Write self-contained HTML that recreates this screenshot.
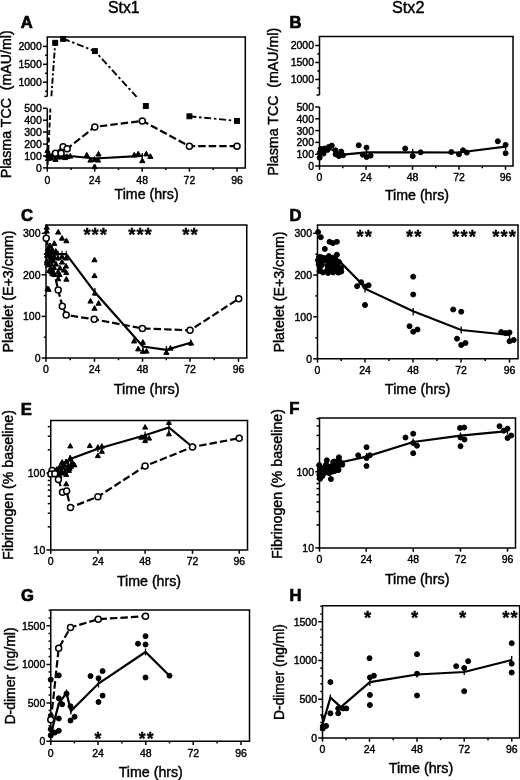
<!DOCTYPE html>
<html><head><meta charset="utf-8"><title>Figure</title>
<style>
html,body{margin:0;padding:0;background:#fff;}
body{width:520px;height:780px;overflow:hidden;}
svg{display:block;font-family:'Liberation Sans', sans-serif;filter:blur(0.45px);}
</style></head>
<body>
<svg width="520" height="780" viewBox="0 0 520 780" stroke="#000" fill="#000" stroke-linecap="butt">
<rect x="0" y="0" width="520" height="780" fill="#fff" stroke="none"/>
<g>
<line x1="46.55" y1="37.00" x2="246.05" y2="37.00" stroke-width="1.5" />
<line x1="245.30" y1="37.00" x2="245.30" y2="167.90" stroke-width="1.5" />
<line x1="46.55" y1="167.90" x2="246.05" y2="167.90" stroke-width="1.5" />
<line x1="47.30" y1="37.00" x2="47.30" y2="96.40" stroke-width="1.5" />
<line x1="47.30" y1="108.30" x2="47.30" y2="167.90" stroke-width="1.5" />
<line x1="44.30" y1="96.40" x2="47.30" y2="96.40" stroke-width="1.5" />
<line x1="47.30" y1="167.90" x2="47.30" y2="171.70" stroke-width="1.5" />
<text x="47.30" y="183.50" font-size="11.3" text-anchor="middle" textLength="5.84" lengthAdjust="spacingAndGlyphs" stroke="#000" stroke-width="0.42" >0</text>
<line x1="94.70" y1="167.90" x2="94.70" y2="171.70" stroke-width="1.5" />
<text x="94.70" y="183.50" font-size="11.3" text-anchor="middle" textLength="11.69" lengthAdjust="spacingAndGlyphs" stroke="#000" stroke-width="0.42" >24</text>
<line x1="142.20" y1="167.90" x2="142.20" y2="171.70" stroke-width="1.5" />
<text x="142.20" y="183.50" font-size="11.3" text-anchor="middle" textLength="11.69" lengthAdjust="spacingAndGlyphs" stroke="#000" stroke-width="0.42" >48</text>
<line x1="189.40" y1="167.90" x2="189.40" y2="171.70" stroke-width="1.5" />
<text x="189.40" y="183.50" font-size="11.3" text-anchor="middle" textLength="11.69" lengthAdjust="spacingAndGlyphs" stroke="#000" stroke-width="0.42" >72</text>
<line x1="237.00" y1="167.90" x2="237.00" y2="171.70" stroke-width="1.5" />
<text x="237.00" y="183.50" font-size="11.3" text-anchor="middle" textLength="11.69" lengthAdjust="spacingAndGlyphs" stroke="#000" stroke-width="0.42" >96</text>
<line x1="71.00" y1="167.90" x2="71.00" y2="170.10" stroke-width="1.5" />
<line x1="118.45" y1="167.90" x2="118.45" y2="170.10" stroke-width="1.5" />
<line x1="165.80" y1="167.90" x2="165.80" y2="170.10" stroke-width="1.5" />
<line x1="213.20" y1="167.90" x2="213.20" y2="170.10" stroke-width="1.5" />
<line x1="43.00" y1="46.40" x2="47.30" y2="46.40" stroke-width="1.5" />
<text x="41.80" y="50.30" font-size="11.3" text-anchor="end" textLength="23.37" lengthAdjust="spacingAndGlyphs" stroke="#000" stroke-width="0.42" >2000</text>
<line x1="43.00" y1="64.30" x2="47.30" y2="64.30" stroke-width="1.5" />
<text x="41.80" y="68.20" font-size="11.3" text-anchor="end" textLength="23.37" lengthAdjust="spacingAndGlyphs" stroke="#000" stroke-width="0.42" >1500</text>
<line x1="43.00" y1="82.20" x2="47.30" y2="82.20" stroke-width="1.5" />
<text x="41.80" y="86.10" font-size="11.3" text-anchor="end" textLength="23.37" lengthAdjust="spacingAndGlyphs" stroke="#000" stroke-width="0.42" >1000</text>
<line x1="43.00" y1="108.30" x2="47.30" y2="108.30" stroke-width="1.5" />
<text x="41.80" y="112.20" font-size="11.3" text-anchor="end" textLength="17.53" lengthAdjust="spacingAndGlyphs" stroke="#000" stroke-width="0.42" >500</text>
<line x1="43.00" y1="120.20" x2="47.30" y2="120.20" stroke-width="1.5" />
<text x="41.80" y="124.10" font-size="11.3" text-anchor="end" textLength="17.53" lengthAdjust="spacingAndGlyphs" stroke="#000" stroke-width="0.42" >400</text>
<line x1="43.00" y1="132.10" x2="47.30" y2="132.10" stroke-width="1.5" />
<text x="41.80" y="136.00" font-size="11.3" text-anchor="end" textLength="17.53" lengthAdjust="spacingAndGlyphs" stroke="#000" stroke-width="0.42" >300</text>
<line x1="43.00" y1="144.10" x2="47.30" y2="144.10" stroke-width="1.5" />
<text x="41.80" y="148.00" font-size="11.3" text-anchor="end" textLength="17.53" lengthAdjust="spacingAndGlyphs" stroke="#000" stroke-width="0.42" >200</text>
<line x1="43.00" y1="156.00" x2="47.30" y2="156.00" stroke-width="1.5" />
<text x="41.80" y="159.90" font-size="11.3" text-anchor="end" textLength="17.53" lengthAdjust="spacingAndGlyphs" stroke="#000" stroke-width="0.42" >100</text>
<line x1="43.00" y1="167.90" x2="47.30" y2="167.90" stroke-width="1.5" />
<text x="41.80" y="171.80" font-size="11.3" text-anchor="end" textLength="5.84" lengthAdjust="spacingAndGlyphs" stroke="#000" stroke-width="0.42" >0</text>
<line x1="45.10" y1="55.30" x2="47.30" y2="55.30" stroke-width="1.5" />
<line x1="45.10" y1="73.30" x2="47.30" y2="73.30" stroke-width="1.5" />
<line x1="45.10" y1="91.20" x2="47.30" y2="91.20" stroke-width="1.5" />
<line x1="318.75" y1="36.50" x2="513.75" y2="36.50" stroke-width="1.5" />
<line x1="513.00" y1="36.50" x2="513.00" y2="166.00" stroke-width="1.5" />
<line x1="318.75" y1="166.00" x2="513.75" y2="166.00" stroke-width="1.5" />
<line x1="319.50" y1="36.50" x2="319.50" y2="95.00" stroke-width="1.5" />
<line x1="319.50" y1="107.00" x2="319.50" y2="166.00" stroke-width="1.5" />
<line x1="316.50" y1="95.00" x2="319.50" y2="95.00" stroke-width="1.5" />
<line x1="319.50" y1="166.00" x2="319.50" y2="169.80" stroke-width="1.5" />
<text x="319.50" y="180.50" font-size="11.3" text-anchor="middle" textLength="5.84" lengthAdjust="spacingAndGlyphs" stroke="#000" stroke-width="0.42" >0</text>
<line x1="366.00" y1="166.00" x2="366.00" y2="169.80" stroke-width="1.5" />
<text x="366.00" y="180.50" font-size="11.3" text-anchor="middle" textLength="11.69" lengthAdjust="spacingAndGlyphs" stroke="#000" stroke-width="0.42" >24</text>
<line x1="412.50" y1="166.00" x2="412.50" y2="169.80" stroke-width="1.5" />
<text x="412.50" y="180.50" font-size="11.3" text-anchor="middle" textLength="11.69" lengthAdjust="spacingAndGlyphs" stroke="#000" stroke-width="0.42" >48</text>
<line x1="459.00" y1="166.00" x2="459.00" y2="169.80" stroke-width="1.5" />
<text x="459.00" y="180.50" font-size="11.3" text-anchor="middle" textLength="11.69" lengthAdjust="spacingAndGlyphs" stroke="#000" stroke-width="0.42" >72</text>
<line x1="505.50" y1="166.00" x2="505.50" y2="169.80" stroke-width="1.5" />
<text x="505.50" y="180.50" font-size="11.3" text-anchor="middle" textLength="11.69" lengthAdjust="spacingAndGlyphs" stroke="#000" stroke-width="0.42" >96</text>
<line x1="342.75" y1="166.00" x2="342.75" y2="168.20" stroke-width="1.5" />
<line x1="389.25" y1="166.00" x2="389.25" y2="168.20" stroke-width="1.5" />
<line x1="435.75" y1="166.00" x2="435.75" y2="168.20" stroke-width="1.5" />
<line x1="482.25" y1="166.00" x2="482.25" y2="168.20" stroke-width="1.5" />
<line x1="315.20" y1="45.50" x2="319.50" y2="45.50" stroke-width="1.5" />
<text x="314.00" y="49.40" font-size="11.3" text-anchor="end" textLength="23.37" lengthAdjust="spacingAndGlyphs" stroke="#000" stroke-width="0.42" >2000</text>
<line x1="315.20" y1="62.50" x2="319.50" y2="62.50" stroke-width="1.5" />
<text x="314.00" y="66.40" font-size="11.3" text-anchor="end" textLength="23.37" lengthAdjust="spacingAndGlyphs" stroke="#000" stroke-width="0.42" >1500</text>
<line x1="315.20" y1="79.50" x2="319.50" y2="79.50" stroke-width="1.5" />
<text x="314.00" y="83.40" font-size="11.3" text-anchor="end" textLength="23.37" lengthAdjust="spacingAndGlyphs" stroke="#000" stroke-width="0.42" >1000</text>
<line x1="315.20" y1="107.00" x2="319.50" y2="107.00" stroke-width="1.5" />
<text x="314.00" y="110.90" font-size="11.3" text-anchor="end" textLength="17.53" lengthAdjust="spacingAndGlyphs" stroke="#000" stroke-width="0.42" >500</text>
<line x1="315.20" y1="118.80" x2="319.50" y2="118.80" stroke-width="1.5" />
<text x="314.00" y="122.70" font-size="11.3" text-anchor="end" textLength="17.53" lengthAdjust="spacingAndGlyphs" stroke="#000" stroke-width="0.42" >400</text>
<line x1="315.20" y1="130.60" x2="319.50" y2="130.60" stroke-width="1.5" />
<text x="314.00" y="134.50" font-size="11.3" text-anchor="end" textLength="17.53" lengthAdjust="spacingAndGlyphs" stroke="#000" stroke-width="0.42" >300</text>
<line x1="315.20" y1="142.40" x2="319.50" y2="142.40" stroke-width="1.5" />
<text x="314.00" y="146.30" font-size="11.3" text-anchor="end" textLength="17.53" lengthAdjust="spacingAndGlyphs" stroke="#000" stroke-width="0.42" >200</text>
<line x1="315.20" y1="154.20" x2="319.50" y2="154.20" stroke-width="1.5" />
<text x="314.00" y="158.10" font-size="11.3" text-anchor="end" textLength="17.53" lengthAdjust="spacingAndGlyphs" stroke="#000" stroke-width="0.42" >100</text>
<line x1="315.20" y1="166.00" x2="319.50" y2="166.00" stroke-width="1.5" />
<text x="314.00" y="169.90" font-size="11.3" text-anchor="end" textLength="5.84" lengthAdjust="spacingAndGlyphs" stroke="#000" stroke-width="0.42" >0</text>
<line x1="317.30" y1="54.00" x2="319.50" y2="54.00" stroke-width="1.5" />
<line x1="317.30" y1="71.00" x2="319.50" y2="71.00" stroke-width="1.5" />
<line x1="317.30" y1="88.00" x2="319.50" y2="88.00" stroke-width="1.5" />
<line x1="45.25" y1="225.00" x2="247.50" y2="225.00" stroke-width="1.5" />
<line x1="246.75" y1="225.00" x2="246.75" y2="358.00" stroke-width="1.5" />
<line x1="45.25" y1="358.00" x2="247.50" y2="358.00" stroke-width="1.5" />
<line x1="46.00" y1="225.00" x2="46.00" y2="358.00" stroke-width="1.5" />
<line x1="46.00" y1="358.00" x2="46.00" y2="361.80" stroke-width="1.5" />
<text x="46.00" y="372.90" font-size="11.3" text-anchor="middle" textLength="5.84" lengthAdjust="spacingAndGlyphs" stroke="#000" stroke-width="0.42" >0</text>
<line x1="94.50" y1="358.00" x2="94.50" y2="361.80" stroke-width="1.5" />
<text x="94.50" y="372.90" font-size="11.3" text-anchor="middle" textLength="11.69" lengthAdjust="spacingAndGlyphs" stroke="#000" stroke-width="0.42" >24</text>
<line x1="142.50" y1="358.00" x2="142.50" y2="361.80" stroke-width="1.5" />
<text x="142.50" y="372.90" font-size="11.3" text-anchor="middle" textLength="11.69" lengthAdjust="spacingAndGlyphs" stroke="#000" stroke-width="0.42" >48</text>
<line x1="190.00" y1="358.00" x2="190.00" y2="361.80" stroke-width="1.5" />
<text x="190.00" y="372.90" font-size="11.3" text-anchor="middle" textLength="11.69" lengthAdjust="spacingAndGlyphs" stroke="#000" stroke-width="0.42" >72</text>
<line x1="238.50" y1="358.00" x2="238.50" y2="361.80" stroke-width="1.5" />
<text x="238.50" y="372.90" font-size="11.3" text-anchor="middle" textLength="11.69" lengthAdjust="spacingAndGlyphs" stroke="#000" stroke-width="0.42" >96</text>
<line x1="70.25" y1="358.00" x2="70.25" y2="360.20" stroke-width="1.5" />
<line x1="118.50" y1="358.00" x2="118.50" y2="360.20" stroke-width="1.5" />
<line x1="166.25" y1="358.00" x2="166.25" y2="360.20" stroke-width="1.5" />
<line x1="214.25" y1="358.00" x2="214.25" y2="360.20" stroke-width="1.5" />
<line x1="41.70" y1="233.30" x2="46.00" y2="233.30" stroke-width="1.5" />
<text x="40.50" y="237.20" font-size="11.3" text-anchor="end" textLength="17.53" lengthAdjust="spacingAndGlyphs" stroke="#000" stroke-width="0.42" >300</text>
<line x1="41.70" y1="274.80" x2="46.00" y2="274.80" stroke-width="1.5" />
<text x="40.50" y="278.70" font-size="11.3" text-anchor="end" textLength="17.53" lengthAdjust="spacingAndGlyphs" stroke="#000" stroke-width="0.42" >200</text>
<line x1="41.70" y1="316.40" x2="46.00" y2="316.40" stroke-width="1.5" />
<text x="40.50" y="320.30" font-size="11.3" text-anchor="end" textLength="17.53" lengthAdjust="spacingAndGlyphs" stroke="#000" stroke-width="0.42" >100</text>
<line x1="41.70" y1="358.00" x2="46.00" y2="358.00" stroke-width="1.5" />
<text x="40.50" y="361.90" font-size="11.3" text-anchor="end" textLength="5.84" lengthAdjust="spacingAndGlyphs" stroke="#000" stroke-width="0.42" >0</text>
<line x1="43.80" y1="254.00" x2="46.00" y2="254.00" stroke-width="1.5" />
<line x1="43.80" y1="295.60" x2="46.00" y2="295.60" stroke-width="1.5" />
<line x1="43.80" y1="337.20" x2="46.00" y2="337.20" stroke-width="1.5" />
<line x1="316.75" y1="225.00" x2="518.75" y2="225.00" stroke-width="1.5" />
<line x1="518.00" y1="225.00" x2="518.00" y2="358.80" stroke-width="1.5" />
<line x1="316.75" y1="358.80" x2="518.75" y2="358.80" stroke-width="1.5" />
<line x1="317.50" y1="225.00" x2="317.50" y2="358.80" stroke-width="1.5" />
<line x1="317.50" y1="358.80" x2="317.50" y2="362.60" stroke-width="1.5" />
<text x="317.50" y="373.90" font-size="11.3" text-anchor="middle" textLength="5.84" lengthAdjust="spacingAndGlyphs" stroke="#000" stroke-width="0.42" >0</text>
<line x1="365.00" y1="358.80" x2="365.00" y2="362.60" stroke-width="1.5" />
<text x="365.00" y="373.90" font-size="11.3" text-anchor="middle" textLength="11.69" lengthAdjust="spacingAndGlyphs" stroke="#000" stroke-width="0.42" >24</text>
<line x1="413.00" y1="358.80" x2="413.00" y2="362.60" stroke-width="1.5" />
<text x="413.00" y="373.90" font-size="11.3" text-anchor="middle" textLength="11.69" lengthAdjust="spacingAndGlyphs" stroke="#000" stroke-width="0.42" >48</text>
<line x1="461.00" y1="358.80" x2="461.00" y2="362.60" stroke-width="1.5" />
<text x="461.00" y="373.90" font-size="11.3" text-anchor="middle" textLength="11.69" lengthAdjust="spacingAndGlyphs" stroke="#000" stroke-width="0.42" >72</text>
<line x1="509.50" y1="358.80" x2="509.50" y2="362.60" stroke-width="1.5" />
<text x="509.50" y="373.90" font-size="11.3" text-anchor="middle" textLength="11.69" lengthAdjust="spacingAndGlyphs" stroke="#000" stroke-width="0.42" >96</text>
<line x1="341.25" y1="358.80" x2="341.25" y2="361.00" stroke-width="1.5" />
<line x1="389.00" y1="358.80" x2="389.00" y2="361.00" stroke-width="1.5" />
<line x1="437.00" y1="358.80" x2="437.00" y2="361.00" stroke-width="1.5" />
<line x1="485.25" y1="358.80" x2="485.25" y2="361.00" stroke-width="1.5" />
<line x1="313.20" y1="233.30" x2="317.50" y2="233.30" stroke-width="1.5" />
<text x="312.00" y="237.20" font-size="11.3" text-anchor="end" textLength="17.53" lengthAdjust="spacingAndGlyphs" stroke="#000" stroke-width="0.42" >300</text>
<line x1="313.20" y1="275.00" x2="317.50" y2="275.00" stroke-width="1.5" />
<text x="312.00" y="278.90" font-size="11.3" text-anchor="end" textLength="17.53" lengthAdjust="spacingAndGlyphs" stroke="#000" stroke-width="0.42" >200</text>
<line x1="313.20" y1="316.80" x2="317.50" y2="316.80" stroke-width="1.5" />
<text x="312.00" y="320.70" font-size="11.3" text-anchor="end" textLength="17.53" lengthAdjust="spacingAndGlyphs" stroke="#000" stroke-width="0.42" >100</text>
<line x1="313.20" y1="358.80" x2="317.50" y2="358.80" stroke-width="1.5" />
<text x="312.00" y="362.70" font-size="11.3" text-anchor="end" textLength="5.84" lengthAdjust="spacingAndGlyphs" stroke="#000" stroke-width="0.42" >0</text>
<line x1="315.30" y1="254.20" x2="317.50" y2="254.20" stroke-width="1.5" />
<line x1="315.30" y1="295.90" x2="317.50" y2="295.90" stroke-width="1.5" />
<line x1="315.30" y1="337.80" x2="317.50" y2="337.80" stroke-width="1.5" />
<line x1="50.00" y1="420.50" x2="248.25" y2="420.50" stroke-width="1.5" />
<line x1="247.50" y1="420.50" x2="247.50" y2="550.00" stroke-width="1.5" />
<line x1="50.00" y1="550.00" x2="248.25" y2="550.00" stroke-width="1.5" />
<line x1="50.75" y1="420.50" x2="50.75" y2="550.00" stroke-width="1.5" />
<line x1="50.75" y1="550.00" x2="50.75" y2="553.80" stroke-width="1.5" />
<text x="50.75" y="564.90" font-size="11.3" text-anchor="middle" textLength="5.84" lengthAdjust="spacingAndGlyphs" stroke="#000" stroke-width="0.42" >0</text>
<line x1="98.00" y1="550.00" x2="98.00" y2="553.80" stroke-width="1.5" />
<text x="98.00" y="564.90" font-size="11.3" text-anchor="middle" textLength="11.69" lengthAdjust="spacingAndGlyphs" stroke="#000" stroke-width="0.42" >24</text>
<line x1="145.10" y1="550.00" x2="145.10" y2="553.80" stroke-width="1.5" />
<text x="145.10" y="564.90" font-size="11.3" text-anchor="middle" textLength="11.69" lengthAdjust="spacingAndGlyphs" stroke="#000" stroke-width="0.42" >48</text>
<line x1="192.50" y1="550.00" x2="192.50" y2="553.80" stroke-width="1.5" />
<text x="192.50" y="564.90" font-size="11.3" text-anchor="middle" textLength="11.69" lengthAdjust="spacingAndGlyphs" stroke="#000" stroke-width="0.42" >72</text>
<line x1="239.25" y1="550.00" x2="239.25" y2="553.80" stroke-width="1.5" />
<text x="239.25" y="564.90" font-size="11.3" text-anchor="middle" textLength="11.69" lengthAdjust="spacingAndGlyphs" stroke="#000" stroke-width="0.42" >96</text>
<line x1="46.45" y1="473.00" x2="50.75" y2="473.00" stroke-width="1.5" />
<text x="45.25" y="476.90" font-size="11.3" text-anchor="end" textLength="17.53" lengthAdjust="spacingAndGlyphs" stroke="#000" stroke-width="0.42" >100</text>
<line x1="46.45" y1="550.00" x2="50.75" y2="550.00" stroke-width="1.5" />
<text x="45.25" y="553.90" font-size="11.3" text-anchor="end" textLength="11.69" lengthAdjust="spacingAndGlyphs" stroke="#000" stroke-width="0.42" >10</text>
<line x1="47.75" y1="526.82" x2="50.75" y2="526.82" stroke-width="1.5" />
<line x1="47.75" y1="513.26" x2="50.75" y2="513.26" stroke-width="1.5" />
<line x1="47.75" y1="503.64" x2="50.75" y2="503.64" stroke-width="1.5" />
<line x1="47.75" y1="496.18" x2="50.75" y2="496.18" stroke-width="1.5" />
<line x1="47.75" y1="490.08" x2="50.75" y2="490.08" stroke-width="1.5" />
<line x1="47.75" y1="484.93" x2="50.75" y2="484.93" stroke-width="1.5" />
<line x1="47.75" y1="480.46" x2="50.75" y2="480.46" stroke-width="1.5" />
<line x1="47.75" y1="476.52" x2="50.75" y2="476.52" stroke-width="1.5" />
<line x1="47.75" y1="449.82" x2="50.75" y2="449.82" stroke-width="1.5" />
<line x1="47.75" y1="436.26" x2="50.75" y2="436.26" stroke-width="1.5" />
<line x1="47.75" y1="426.64" x2="50.75" y2="426.64" stroke-width="1.5" />
<line x1="318.75" y1="418.00" x2="516.25" y2="418.00" stroke-width="1.5" />
<line x1="515.50" y1="418.00" x2="515.50" y2="547.90" stroke-width="1.5" />
<line x1="318.75" y1="547.90" x2="516.25" y2="547.90" stroke-width="1.5" />
<line x1="319.50" y1="418.00" x2="319.50" y2="547.90" stroke-width="1.5" />
<line x1="319.50" y1="547.90" x2="319.50" y2="551.70" stroke-width="1.5" />
<text x="319.50" y="562.90" font-size="11.3" text-anchor="middle" textLength="5.84" lengthAdjust="spacingAndGlyphs" stroke="#000" stroke-width="0.42" >0</text>
<line x1="366.25" y1="547.90" x2="366.25" y2="551.70" stroke-width="1.5" />
<text x="366.25" y="562.90" font-size="11.3" text-anchor="middle" textLength="11.69" lengthAdjust="spacingAndGlyphs" stroke="#000" stroke-width="0.42" >24</text>
<line x1="413.25" y1="547.90" x2="413.25" y2="551.70" stroke-width="1.5" />
<text x="413.25" y="562.90" font-size="11.3" text-anchor="middle" textLength="11.69" lengthAdjust="spacingAndGlyphs" stroke="#000" stroke-width="0.42" >48</text>
<line x1="460.50" y1="547.90" x2="460.50" y2="551.70" stroke-width="1.5" />
<text x="460.50" y="562.90" font-size="11.3" text-anchor="middle" textLength="11.69" lengthAdjust="spacingAndGlyphs" stroke="#000" stroke-width="0.42" >72</text>
<line x1="507.50" y1="547.90" x2="507.50" y2="551.70" stroke-width="1.5" />
<text x="507.50" y="562.90" font-size="11.3" text-anchor="middle" textLength="11.69" lengthAdjust="spacingAndGlyphs" stroke="#000" stroke-width="0.42" >96</text>
<line x1="315.20" y1="471.75" x2="319.50" y2="471.75" stroke-width="1.5" />
<text x="314.00" y="475.65" font-size="11.3" text-anchor="end" textLength="17.53" lengthAdjust="spacingAndGlyphs" stroke="#000" stroke-width="0.42" >100</text>
<line x1="315.20" y1="547.90" x2="319.50" y2="547.90" stroke-width="1.5" />
<text x="314.00" y="551.80" font-size="11.3" text-anchor="end" textLength="11.69" lengthAdjust="spacingAndGlyphs" stroke="#000" stroke-width="0.42" >10</text>
<line x1="316.50" y1="524.94" x2="319.50" y2="524.94" stroke-width="1.5" />
<line x1="316.50" y1="511.54" x2="319.50" y2="511.54" stroke-width="1.5" />
<line x1="316.50" y1="502.03" x2="319.50" y2="502.03" stroke-width="1.5" />
<line x1="316.50" y1="494.66" x2="319.50" y2="494.66" stroke-width="1.5" />
<line x1="316.50" y1="488.63" x2="319.50" y2="488.63" stroke-width="1.5" />
<line x1="316.50" y1="483.54" x2="319.50" y2="483.54" stroke-width="1.5" />
<line x1="316.50" y1="479.12" x2="319.50" y2="479.12" stroke-width="1.5" />
<line x1="316.50" y1="475.23" x2="319.50" y2="475.23" stroke-width="1.5" />
<line x1="316.50" y1="448.84" x2="319.50" y2="448.84" stroke-width="1.5" />
<line x1="316.50" y1="435.44" x2="319.50" y2="435.44" stroke-width="1.5" />
<line x1="316.50" y1="425.93" x2="319.50" y2="425.93" stroke-width="1.5" />
<line x1="316.50" y1="418.56" x2="319.50" y2="418.56" stroke-width="1.5" />
<line x1="50.00" y1="610.00" x2="250.25" y2="610.00" stroke-width="1.5" />
<line x1="249.50" y1="610.00" x2="249.50" y2="741.25" stroke-width="1.5" />
<line x1="50.00" y1="741.25" x2="250.25" y2="741.25" stroke-width="1.5" />
<line x1="50.75" y1="610.00" x2="50.75" y2="741.25" stroke-width="1.5" />
<line x1="50.75" y1="741.25" x2="50.75" y2="745.05" stroke-width="1.5" />
<text x="50.75" y="756.85" font-size="11.3" text-anchor="middle" textLength="5.84" lengthAdjust="spacingAndGlyphs" stroke="#000" stroke-width="0.42" >0</text>
<line x1="98.00" y1="741.25" x2="98.00" y2="745.05" stroke-width="1.5" />
<text x="98.00" y="756.85" font-size="11.3" text-anchor="middle" textLength="11.69" lengthAdjust="spacingAndGlyphs" stroke="#000" stroke-width="0.42" >24</text>
<line x1="145.75" y1="741.25" x2="145.75" y2="745.05" stroke-width="1.5" />
<text x="145.75" y="756.85" font-size="11.3" text-anchor="middle" textLength="11.69" lengthAdjust="spacingAndGlyphs" stroke="#000" stroke-width="0.42" >48</text>
<line x1="193.25" y1="741.25" x2="193.25" y2="745.05" stroke-width="1.5" />
<text x="193.25" y="756.85" font-size="11.3" text-anchor="middle" textLength="11.69" lengthAdjust="spacingAndGlyphs" stroke="#000" stroke-width="0.42" >72</text>
<line x1="241.00" y1="741.25" x2="241.00" y2="745.05" stroke-width="1.5" />
<text x="241.00" y="756.85" font-size="11.3" text-anchor="middle" textLength="11.69" lengthAdjust="spacingAndGlyphs" stroke="#000" stroke-width="0.42" >96</text>
<line x1="74.38" y1="741.25" x2="74.38" y2="743.45" stroke-width="1.5" />
<line x1="121.88" y1="741.25" x2="121.88" y2="743.45" stroke-width="1.5" />
<line x1="169.50" y1="741.25" x2="169.50" y2="743.45" stroke-width="1.5" />
<line x1="217.12" y1="741.25" x2="217.12" y2="743.45" stroke-width="1.5" />
<line x1="46.45" y1="625.75" x2="50.75" y2="625.75" stroke-width="1.5" />
<text x="45.25" y="629.65" font-size="11.3" text-anchor="end" textLength="23.37" lengthAdjust="spacingAndGlyphs" stroke="#000" stroke-width="0.42" >1500</text>
<line x1="46.45" y1="664.50" x2="50.75" y2="664.50" stroke-width="1.5" />
<text x="45.25" y="668.40" font-size="11.3" text-anchor="end" textLength="23.37" lengthAdjust="spacingAndGlyphs" stroke="#000" stroke-width="0.42" >1000</text>
<line x1="46.45" y1="703.00" x2="50.75" y2="703.00" stroke-width="1.5" />
<text x="45.25" y="706.90" font-size="11.3" text-anchor="end" textLength="17.53" lengthAdjust="spacingAndGlyphs" stroke="#000" stroke-width="0.42" >500</text>
<line x1="46.45" y1="741.25" x2="50.75" y2="741.25" stroke-width="1.5" />
<text x="45.25" y="745.15" font-size="11.3" text-anchor="end" textLength="5.84" lengthAdjust="spacingAndGlyphs" stroke="#000" stroke-width="0.42" >0</text>
<line x1="48.55" y1="733.55" x2="50.75" y2="733.55" stroke-width="1.5" />
<line x1="48.55" y1="725.85" x2="50.75" y2="725.85" stroke-width="1.5" />
<line x1="48.55" y1="718.15" x2="50.75" y2="718.15" stroke-width="1.5" />
<line x1="48.55" y1="710.45" x2="50.75" y2="710.45" stroke-width="1.5" />
<line x1="48.55" y1="695.05" x2="50.75" y2="695.05" stroke-width="1.5" />
<line x1="48.55" y1="687.35" x2="50.75" y2="687.35" stroke-width="1.5" />
<line x1="48.55" y1="679.65" x2="50.75" y2="679.65" stroke-width="1.5" />
<line x1="48.55" y1="671.95" x2="50.75" y2="671.95" stroke-width="1.5" />
<line x1="48.55" y1="656.55" x2="50.75" y2="656.55" stroke-width="1.5" />
<line x1="48.55" y1="648.85" x2="50.75" y2="648.85" stroke-width="1.5" />
<line x1="48.55" y1="641.15" x2="50.75" y2="641.15" stroke-width="1.5" />
<line x1="48.55" y1="633.45" x2="50.75" y2="633.45" stroke-width="1.5" />
<line x1="48.55" y1="618.05" x2="50.75" y2="618.05" stroke-width="1.5" />
<line x1="48.55" y1="610.35" x2="50.75" y2="610.35" stroke-width="1.5" />
<line x1="321.75" y1="605.75" x2="520.35" y2="605.75" stroke-width="1.5" />
<line x1="519.60" y1="605.75" x2="519.60" y2="738.00" stroke-width="1.5" />
<line x1="321.75" y1="738.00" x2="520.35" y2="738.00" stroke-width="1.5" />
<line x1="322.50" y1="605.75" x2="322.50" y2="738.00" stroke-width="1.5" />
<line x1="322.50" y1="738.00" x2="322.50" y2="741.80" stroke-width="1.5" />
<text x="322.50" y="752.90" font-size="11.3" text-anchor="middle" textLength="5.84" lengthAdjust="spacingAndGlyphs" stroke="#000" stroke-width="0.42" >0</text>
<line x1="369.50" y1="738.00" x2="369.50" y2="741.80" stroke-width="1.5" />
<text x="369.50" y="752.90" font-size="11.3" text-anchor="middle" textLength="11.69" lengthAdjust="spacingAndGlyphs" stroke="#000" stroke-width="0.42" >24</text>
<line x1="417.00" y1="738.00" x2="417.00" y2="741.80" stroke-width="1.5" />
<text x="417.00" y="752.90" font-size="11.3" text-anchor="middle" textLength="11.69" lengthAdjust="spacingAndGlyphs" stroke="#000" stroke-width="0.42" >48</text>
<line x1="464.25" y1="738.00" x2="464.25" y2="741.80" stroke-width="1.5" />
<text x="464.25" y="752.90" font-size="11.3" text-anchor="middle" textLength="11.69" lengthAdjust="spacingAndGlyphs" stroke="#000" stroke-width="0.42" >72</text>
<line x1="511.75" y1="738.00" x2="511.75" y2="741.80" stroke-width="1.5" />
<text x="511.75" y="752.90" font-size="11.3" text-anchor="middle" textLength="11.69" lengthAdjust="spacingAndGlyphs" stroke="#000" stroke-width="0.42" >96</text>
<line x1="346.00" y1="738.00" x2="346.00" y2="740.20" stroke-width="1.5" />
<line x1="393.25" y1="738.00" x2="393.25" y2="740.20" stroke-width="1.5" />
<line x1="440.62" y1="738.00" x2="440.62" y2="740.20" stroke-width="1.5" />
<line x1="488.00" y1="738.00" x2="488.00" y2="740.20" stroke-width="1.5" />
<line x1="318.20" y1="621.75" x2="322.50" y2="621.75" stroke-width="1.5" />
<text x="317.00" y="625.65" font-size="11.3" text-anchor="end" textLength="23.37" lengthAdjust="spacingAndGlyphs" stroke="#000" stroke-width="0.42" >1500</text>
<line x1="318.20" y1="660.50" x2="322.50" y2="660.50" stroke-width="1.5" />
<text x="317.00" y="664.40" font-size="11.3" text-anchor="end" textLength="23.37" lengthAdjust="spacingAndGlyphs" stroke="#000" stroke-width="0.42" >1000</text>
<line x1="318.20" y1="699.25" x2="322.50" y2="699.25" stroke-width="1.5" />
<text x="317.00" y="703.15" font-size="11.3" text-anchor="end" textLength="17.53" lengthAdjust="spacingAndGlyphs" stroke="#000" stroke-width="0.42" >500</text>
<line x1="318.20" y1="738.00" x2="322.50" y2="738.00" stroke-width="1.5" />
<text x="317.00" y="741.90" font-size="11.3" text-anchor="end" textLength="5.84" lengthAdjust="spacingAndGlyphs" stroke="#000" stroke-width="0.42" >0</text>
<line x1="320.30" y1="730.25" x2="322.50" y2="730.25" stroke-width="1.5" />
<line x1="320.30" y1="722.50" x2="322.50" y2="722.50" stroke-width="1.5" />
<line x1="320.30" y1="714.75" x2="322.50" y2="714.75" stroke-width="1.5" />
<line x1="320.30" y1="707.00" x2="322.50" y2="707.00" stroke-width="1.5" />
<line x1="320.30" y1="691.50" x2="322.50" y2="691.50" stroke-width="1.5" />
<line x1="320.30" y1="683.75" x2="322.50" y2="683.75" stroke-width="1.5" />
<line x1="320.30" y1="676.00" x2="322.50" y2="676.00" stroke-width="1.5" />
<line x1="320.30" y1="668.25" x2="322.50" y2="668.25" stroke-width="1.5" />
<line x1="320.30" y1="652.75" x2="322.50" y2="652.75" stroke-width="1.5" />
<line x1="320.30" y1="645.00" x2="322.50" y2="645.00" stroke-width="1.5" />
<line x1="320.30" y1="637.25" x2="322.50" y2="637.25" stroke-width="1.5" />
<line x1="320.30" y1="629.50" x2="322.50" y2="629.50" stroke-width="1.5" />
<line x1="320.30" y1="614.00" x2="322.50" y2="614.00" stroke-width="1.5" />
<line x1="320.30" y1="606.25" x2="322.50" y2="606.25" stroke-width="1.5" />
<text x="123.80" y="13.00" font-size="16" text-anchor="middle" textLength="31.6" lengthAdjust="spacingAndGlyphs" stroke="#000" stroke-width="0.42" >Stx1</text>
<text x="408.20" y="13.00" font-size="16" text-anchor="middle" textLength="32.4" lengthAdjust="spacingAndGlyphs" stroke="#000" stroke-width="0.42" >Stx2</text>
<text x="20.80" y="27.80" font-size="16.6" text-anchor="start" font-weight="bold" stroke="#000" stroke-width="0.7" >A</text>
<text x="289.50" y="28.00" font-size="16.6" text-anchor="start" font-weight="bold" stroke="#000" stroke-width="0.7" >B</text>
<text x="21.00" y="221.00" font-size="16.6" text-anchor="start" font-weight="bold" stroke="#000" stroke-width="0.7" >C</text>
<text x="289.50" y="220.80" font-size="16.6" text-anchor="start" font-weight="bold" stroke="#000" stroke-width="0.7" >D</text>
<text x="20.80" y="415.30" font-size="16.6" text-anchor="start" font-weight="bold" stroke="#000" stroke-width="0.7" >E</text>
<text x="289.20" y="413.70" font-size="16.6" text-anchor="start" font-weight="bold" stroke="#000" stroke-width="0.7" >F</text>
<text x="21.00" y="600.80" font-size="16.6" text-anchor="start" font-weight="bold" stroke="#000" stroke-width="0.7" >G</text>
<text x="289.50" y="600.50" font-size="16.6" text-anchor="start" font-weight="bold" stroke="#000" stroke-width="0.7" >H</text>
<text x="146.60" y="199.40" font-size="14.2" text-anchor="middle" stroke="#000" stroke-width="0.42" >Time (hrs)</text>
<text x="417.00" y="199.60" font-size="14.2" text-anchor="middle" stroke="#000" stroke-width="0.42" >Time (hrs)</text>
<text x="146.60" y="393.80" font-size="14.6" text-anchor="middle" stroke="#000" stroke-width="0.42" >Time (hrs)</text>
<text x="417.60" y="393.80" font-size="14.5" text-anchor="middle" stroke="#000" stroke-width="0.42" >Time (hrs)</text>
<text x="149.00" y="586.30" font-size="14.2" text-anchor="middle" stroke="#000" stroke-width="0.42" >Time (hrs)</text>
<text x="417.20" y="584.10" font-size="14.3" text-anchor="middle" stroke="#000" stroke-width="0.42" >Time (hrs)</text>
<text x="150.80" y="777.00" font-size="14.2" text-anchor="middle" stroke="#000" stroke-width="0.42" >Time (hrs)</text>
<text x="421.00" y="773.20" font-size="14.3" text-anchor="middle" stroke="#000" stroke-width="0.42" >Time (hrs)</text>
<text x="11.30" y="104.30" font-size="14.2" text-anchor="middle" transform="rotate(-90 11.30 104.30)" stroke="#000" stroke-width="0.42" >Plasma TCC&#160;&#160;(mAU/ml)</text>
<text x="278.50" y="101.80" font-size="14.2" text-anchor="middle" transform="rotate(-90 278.50 101.80)" stroke="#000" stroke-width="0.42" >Plasma TCC&#160;&#160;(mAU/ml)</text>
<text x="12.90" y="291.50" font-size="14.3" text-anchor="middle" transform="rotate(-90 12.90 291.50)" stroke="#000" stroke-width="0.42" >Platelet (E+3/cmm)</text>
<text x="283.50" y="292.00" font-size="14.2" text-anchor="middle" transform="rotate(-90 283.50 292.00)" stroke="#000" stroke-width="0.42" >Platelet (E+3/cmm)</text>
<text x="13.30" y="485.00" font-size="14.2" text-anchor="middle" transform="rotate(-90 13.30 485.00)" stroke="#000" stroke-width="0.42" >Fibrinogen (% baseline)</text>
<text x="281.50" y="484.00" font-size="14.2" text-anchor="middle" transform="rotate(-90 281.50 484.00)" stroke="#000" stroke-width="0.42" >Fibrinogen (% baseline)</text>
<text x="14.80" y="676.00" font-size="14.0" text-anchor="middle" transform="rotate(-90 14.80 676.00)" stroke="#000" stroke-width="0.42" >D-dimer (ng/ml)</text>
<text x="284.00" y="672.00" font-size="13.8" text-anchor="middle" transform="rotate(-90 284.00 672.00)" stroke="#000" stroke-width="0.42" >D-dimer (ng/ml)</text>
<polyline points="47.60,165.00 50.40,108.60" fill="none" stroke-width="1.9" stroke-dasharray="5 2.5" />
<polyline points="51.40,96.30 55.20,42.80" fill="none" stroke-width="1.9" stroke-dasharray="6 2.2 2.2 2.2" />
<polyline points="63.10,38.70 94.90,51.10 136.60,96.90" fill="none" stroke-width="1.9" stroke-dasharray="7 2.7 2.5 2.7" />
<polyline points="189.40,116.30 237.00,120.90" fill="none" stroke-width="1.9" stroke-dasharray="7 2.7 2.5 2.7" />
<polyline points="47.60,155.60 55.50,153.20 63.10,146.80 67.20,148.70 94.80,126.90 142.30,120.90 189.40,146.20 237.00,146.20" fill="none" stroke-width="2.2" stroke-dasharray="7.5 3" />
<polyline points="47.60,156.50 55.50,157.00 63.00,155.50 70.00,156.00 94.60,158.50 142.30,155.90" fill="none" stroke-width="2.2" />
<line x1="142.30" y1="153.00" x2="142.30" y2="161.00" stroke-width="1.3" />
<path d="M47.50 147.90L50.10 152.58L44.90 152.58Z" fill="#000"/>
<path d="M47.50 152.40L50.10 157.08L44.90 157.08Z" fill="#000"/>
<path d="M48.00 155.90L50.60 160.58L45.40 160.58Z" fill="#000"/>
<path d="M49.50 153.40L52.10 158.08L46.90 158.08Z" fill="#000"/>
<path d="M51.00 155.40L53.60 160.08L48.40 160.08Z" fill="#000"/>
<path d="M52.50 153.40L55.10 158.08L49.90 158.08Z" fill="#000"/>
<path d="M55.50 156.70L58.10 161.38L52.90 161.38Z" fill="#000"/>
<path d="M59.00 154.40L61.60 159.08L56.40 159.08Z" fill="#000"/>
<path d="M63.00 153.90L65.60 158.58L60.40 158.58Z" fill="#000"/>
<path d="M65.00 154.90L67.60 159.58L62.40 159.58Z" fill="#000"/>
<path d="M67.00 153.90L69.60 158.58L64.40 158.58Z" fill="#000"/>
<path d="M70.30 153.40L72.90 158.08L67.70 158.08Z" fill="#000"/>
<path d="M86.80 152.40L89.40 157.08L84.20 157.08Z" fill="#000"/>
<path d="M90.50 157.40L93.10 162.08L87.90 162.08Z" fill="#000"/>
<path d="M94.50 156.70L97.10 161.38L91.90 161.38Z" fill="#000"/>
<path d="M98.50 151.40L101.10 156.08L95.90 156.08Z" fill="#000"/>
<path d="M98.00 157.40L100.60 162.08L95.40 162.08Z" fill="#000"/>
<path d="M94.60 163.90L97.20 168.58L92.00 168.58Z" fill="#000"/>
<path d="M134.30 152.30L136.90 156.98L131.70 156.98Z" fill="#000"/>
<path d="M138.20 151.20L140.80 155.88L135.60 155.88Z" fill="#000"/>
<path d="M142.30 158.00L144.90 162.68L139.70 162.68Z" fill="#000"/>
<path d="M146.30 151.20L148.90 155.88L143.70 155.88Z" fill="#000"/>
<path d="M150.40 153.70L153.00 158.38L147.80 158.38Z" fill="#000"/>
<rect x="52.75" y="40.35" width="4.9" height="4.9" fill="#000"/>
<rect x="60.65" y="36.45" width="4.9" height="4.9" fill="#000"/>
<rect x="92.45" y="48.65" width="4.9" height="4.9" fill="#000"/>
<rect x="143.35" y="103.55" width="4.9" height="4.9" fill="#000"/>
<rect x="186.95" y="113.85" width="4.9" height="4.9" fill="#000"/>
<rect x="234.55" y="118.45" width="4.9" height="4.9" fill="#000"/>
<circle cx="55.50" cy="153.20" r="3.0" fill="#fff" stroke="#000" stroke-width="1.5"/>
<circle cx="61.10" cy="153.20" r="3.0" fill="#fff" stroke="#000" stroke-width="1.5"/>
<circle cx="63.10" cy="146.80" r="3.0" fill="#fff" stroke="#000" stroke-width="1.5"/>
<circle cx="67.20" cy="148.70" r="3.0" fill="#fff" stroke="#000" stroke-width="1.5"/>
<circle cx="94.80" cy="126.90" r="3.0" fill="#fff" stroke="#000" stroke-width="1.5"/>
<circle cx="142.30" cy="120.90" r="3.0" fill="#fff" stroke="#000" stroke-width="1.5"/>
<circle cx="189.40" cy="146.20" r="3.0" fill="#fff" stroke="#000" stroke-width="1.5"/>
<circle cx="237.00" cy="146.20" r="3.0" fill="#fff" stroke="#000" stroke-width="1.5"/>
<polyline points="319.70,152.00 324.00,150.50 328.50,148.80 332.00,149.50 336.00,152.30 343.00,154.70 366.50,152.30 412.70,152.30 459.00,152.50 505.60,146.60" fill="none" stroke-width="2.2" />
<line x1="412.70" y1="148.80" x2="412.70" y2="156.50" stroke-width="1.3" />
<line x1="366.50" y1="149.50" x2="366.50" y2="155.00" stroke-width="1.3" />
<line x1="505.60" y1="143.00" x2="505.60" y2="150.00" stroke-width="1.3" />
<circle cx="319.70" cy="157.70" r="2.5" fill="#000"/>
<circle cx="319.90" cy="152.50" r="2.5" fill="#000"/>
<circle cx="320.80" cy="148.90" r="2.5" fill="#000"/>
<circle cx="323.50" cy="153.60" r="2.5" fill="#000"/>
<circle cx="324.50" cy="148.50" r="2.5" fill="#000"/>
<circle cx="327.50" cy="149.90" r="2.5" fill="#000"/>
<circle cx="328.80" cy="146.90" r="2.5" fill="#000"/>
<circle cx="331.80" cy="145.60" r="2.5" fill="#000"/>
<circle cx="335.60" cy="150.30" r="2.5" fill="#000"/>
<circle cx="335.60" cy="154.30" r="2.5" fill="#000"/>
<circle cx="338.90" cy="156.10" r="2.5" fill="#000"/>
<circle cx="341.20" cy="151.60" r="2.5" fill="#000"/>
<circle cx="343.00" cy="155.30" r="2.5" fill="#000"/>
<circle cx="358.70" cy="145.30" r="2.5" fill="#000"/>
<circle cx="366.50" cy="147.60" r="2.5" fill="#000"/>
<circle cx="362.80" cy="154.70" r="2.5" fill="#000"/>
<circle cx="366.50" cy="157.00" r="2.5" fill="#000"/>
<circle cx="370.60" cy="155.70" r="2.5" fill="#000"/>
<circle cx="405.20" cy="148.50" r="2.5" fill="#000"/>
<circle cx="412.70" cy="156.10" r="2.5" fill="#000"/>
<circle cx="420.60" cy="152.30" r="2.5" fill="#000"/>
<circle cx="451.30" cy="152.00" r="2.5" fill="#000"/>
<circle cx="459.00" cy="154.30" r="2.5" fill="#000"/>
<circle cx="463.00" cy="150.30" r="2.5" fill="#000"/>
<circle cx="466.80" cy="152.60" r="2.5" fill="#000"/>
<circle cx="497.80" cy="141.30" r="2.5" fill="#000"/>
<circle cx="505.60" cy="144.90" r="2.5" fill="#000"/>
<circle cx="505.60" cy="153.20" r="2.5" fill="#000"/>
<text x="95.70" y="241.30" font-size="18.5" text-anchor="middle" font-weight="bold" letter-spacing="1.0" stroke="#000" stroke-width="0.35">***</text>
<text x="140.50" y="241.30" font-size="18.5" text-anchor="middle" font-weight="bold" letter-spacing="1.0" stroke="#000" stroke-width="0.35">***</text>
<text x="190.50" y="241.30" font-size="18.5" text-anchor="middle" font-weight="bold" letter-spacing="1.0" stroke="#000" stroke-width="0.35">**</text>
<polyline points="46.20,238.30 58.20,290.00 62.30,306.20 66.20,315.00 94.20,319.30 142.40,328.40 190.00,330.30 238.70,298.70" fill="none" stroke-width="2.2" stroke-dasharray="7.5 3" />
<polyline points="46.20,254.20 66.20,254.20 94.90,292.30 142.90,346.50 166.40,349.90 190.60,342.70" fill="none" stroke-width="2.2" />
<line x1="50.20" y1="250.80" x2="50.20" y2="254.50" stroke-width="1.1" />
<line x1="54.20" y1="250.80" x2="54.20" y2="254.50" stroke-width="1.1" />
<line x1="58.20" y1="250.80" x2="58.20" y2="254.50" stroke-width="1.1" />
<line x1="62.00" y1="250.80" x2="62.00" y2="254.50" stroke-width="1.1" />
<line x1="66.30" y1="250.80" x2="66.30" y2="254.50" stroke-width="1.1" />
<line x1="142.90" y1="341.00" x2="142.90" y2="353.00" stroke-width="1.3" />
<line x1="166.40" y1="346.00" x2="166.40" y2="353.00" stroke-width="1.3" />
<line x1="190.60" y1="339.50" x2="190.60" y2="346.00" stroke-width="1.3" />
<line x1="94.90" y1="288.00" x2="94.90" y2="296.00" stroke-width="1.3" />
<path d="M46.70 224.60L49.30 229.28L44.10 229.28Z" fill="#000"/>
<path d="M46.70 228.40L49.30 233.08L44.10 233.08Z" fill="#000"/>
<path d="M58.20 229.40L60.80 234.08L55.60 234.08Z" fill="#000"/>
<path d="M62.00 235.50L64.60 240.18L59.40 240.18Z" fill="#000"/>
<path d="M66.40 238.10L69.00 242.78L63.80 242.78Z" fill="#000"/>
<path d="M54.30 240.70L56.90 245.38L51.70 245.38Z" fill="#000"/>
<path d="M50.00 242.90L52.60 247.58L47.40 247.58Z" fill="#000"/>
<path d="M48.00 245.90L50.60 250.58L45.40 250.58Z" fill="#000"/>
<path d="M52.00 246.40L54.60 251.08L49.40 251.08Z" fill="#000"/>
<path d="M58.20 276.10L60.80 280.78L55.60 280.78Z" fill="#000"/>
<path d="M66.40 276.50L69.00 281.18L63.80 281.18Z" fill="#000"/>
<path d="M48.60 286.60L51.20 291.28L46.00 291.28Z" fill="#000"/>
<path d="M47.50 286.10L50.10 290.78L44.90 290.78Z" fill="#000"/>
<path d="M94.50 257.10L97.10 261.78L91.90 261.78Z" fill="#000"/>
<path d="M94.50 272.90L97.10 277.58L91.90 277.58Z" fill="#000"/>
<path d="M94.90 290.40L97.50 295.08L92.30 295.08Z" fill="#000"/>
<path d="M90.50 298.40L93.10 303.08L87.90 303.08Z" fill="#000"/>
<path d="M98.60 300.60L101.20 305.28L96.00 305.28Z" fill="#000"/>
<path d="M94.50 305.60L97.10 310.28L91.90 310.28Z" fill="#000"/>
<path d="M134.10 338.30L136.70 342.98L131.50 342.98Z" fill="#000"/>
<path d="M142.90 339.60L145.50 344.28L140.30 344.28Z" fill="#000"/>
<path d="M138.20 346.20L140.80 350.88L135.60 350.88Z" fill="#000"/>
<path d="M142.90 348.60L145.50 353.28L140.30 353.28Z" fill="#000"/>
<path d="M146.50 348.40L149.10 353.08L143.90 353.08Z" fill="#000"/>
<path d="M166.40 349.70L169.00 354.38L163.80 354.38Z" fill="#000"/>
<path d="M170.50 345.50L173.10 350.18L167.90 350.18Z" fill="#000"/>
<path d="M191.00 340.40L193.60 345.08L188.40 345.08Z" fill="#000"/>
<path d="M49.58 251.17L52.18 255.85L46.98 255.85Z" fill="#000"/>
<path d="M52.68 249.21L55.28 253.89L50.08 253.89Z" fill="#000"/>
<path d="M51.59 256.54L54.19 261.22L48.99 261.22Z" fill="#000"/>
<path d="M47.05 260.09L49.65 264.77L44.45 264.77Z" fill="#000"/>
<path d="M46.86 258.24L49.46 262.92L44.26 262.92Z" fill="#000"/>
<path d="M47.16 249.67L49.76 254.35L44.56 254.35Z" fill="#000"/>
<path d="M50.53 268.07L53.13 272.75L47.93 272.75Z" fill="#000"/>
<path d="M47.68 252.98L50.28 257.66L45.08 257.66Z" fill="#000"/>
<path d="M52.46 271.09L55.06 275.77L49.86 275.77Z" fill="#000"/>
<path d="M51.98 257.32L54.58 262.00L49.38 262.00Z" fill="#000"/>
<path d="M55.77 248.56L58.37 253.24L53.17 253.24Z" fill="#000"/>
<path d="M54.66 254.64L57.26 259.32L52.06 259.32Z" fill="#000"/>
<path d="M47.87 250.34L50.47 255.02L45.27 255.02Z" fill="#000"/>
<path d="M49.43 267.80L52.03 272.48L46.83 272.48Z" fill="#000"/>
<path d="M48.22 261.94L50.82 266.62L45.62 266.62Z" fill="#000"/>
<path d="M52.57 256.71L55.17 261.39L49.97 261.39Z" fill="#000"/>
<path d="M51.70 248.97L54.30 253.65L49.10 253.65Z" fill="#000"/>
<path d="M47.07 252.55L49.67 257.23L44.47 257.23Z" fill="#000"/>
<path d="M52.96 258.09L55.56 262.77L50.36 262.77Z" fill="#000"/>
<path d="M49.48 262.04L52.08 266.72L46.88 266.72Z" fill="#000"/>
<path d="M50.81 254.89L53.41 259.57L48.21 259.57Z" fill="#000"/>
<path d="M54.05 264.87L56.65 269.55L51.45 269.55Z" fill="#000"/>
<path d="M48.82 261.76L51.42 266.44L46.22 266.44Z" fill="#000"/>
<path d="M51.49 269.28L54.09 273.96L48.89 273.96Z" fill="#000"/>
<path d="M53.43 254.60L56.03 259.28L50.83 259.28Z" fill="#000"/>
<path d="M55.81 250.35L58.41 255.03L53.21 255.03Z" fill="#000"/>
<path d="M50.47 266.33L53.07 271.01L47.87 271.01Z" fill="#000"/>
<path d="M58.00 255.40L60.60 260.08L55.40 260.08Z" fill="#000"/>
<path d="M62.00 259.40L64.60 264.08L59.40 264.08Z" fill="#000"/>
<path d="M66.00 255.40L68.60 260.08L63.40 260.08Z" fill="#000"/>
<path d="M60.00 265.40L62.60 270.08L57.40 270.08Z" fill="#000"/>
<path d="M64.00 267.40L66.60 272.08L61.40 272.08Z" fill="#000"/>
<path d="M58.00 269.40L60.60 274.08L55.40 274.08Z" fill="#000"/>
<path d="M66.00 263.40L68.60 268.08L63.40 268.08Z" fill="#000"/>
<path d="M62.00 253.90L64.60 258.58L59.40 258.58Z" fill="#000"/>
<path d="M56.00 261.40L58.60 266.08L53.40 266.08Z" fill="#000"/>
<path d="M66.30 269.90L68.90 274.58L63.70 274.58Z" fill="#000"/>
<path d="M59.50 271.90L62.10 276.58L56.90 276.58Z" fill="#000"/>
<path d="M54.50 271.90L57.10 276.58L51.90 276.58Z" fill="#000"/>
<circle cx="46.20" cy="238.30" r="3.0" fill="#fff" stroke="#000" stroke-width="1.5"/>
<circle cx="58.20" cy="290.00" r="3.0" fill="#fff" stroke="#000" stroke-width="1.5"/>
<circle cx="62.30" cy="306.20" r="3.0" fill="#fff" stroke="#000" stroke-width="1.5"/>
<circle cx="66.20" cy="315.00" r="3.0" fill="#fff" stroke="#000" stroke-width="1.5"/>
<circle cx="94.20" cy="319.30" r="3.0" fill="#fff" stroke="#000" stroke-width="1.5"/>
<circle cx="142.40" cy="328.40" r="3.0" fill="#fff" stroke="#000" stroke-width="1.5"/>
<circle cx="190.00" cy="330.30" r="3.0" fill="#fff" stroke="#000" stroke-width="1.5"/>
<circle cx="238.70" cy="298.70" r="3.0" fill="#fff" stroke="#000" stroke-width="1.5"/>
<text x="364.80" y="242.70" font-size="18.5" text-anchor="middle" font-weight="bold" letter-spacing="1.0" stroke="#000" stroke-width="0.35">**</text>
<text x="414.20" y="242.70" font-size="18.5" text-anchor="middle" font-weight="bold" letter-spacing="1.0" stroke="#000" stroke-width="0.35">**</text>
<text x="464.60" y="242.70" font-size="18.5" text-anchor="middle" font-weight="bold" letter-spacing="1.0" stroke="#000" stroke-width="0.35">***</text>
<text x="504.60" y="242.70" font-size="18.5" text-anchor="middle" font-weight="bold" letter-spacing="1.0" stroke="#000" stroke-width="0.35">***</text>
<polyline points="317.50,258.70 337.00,258.70 361.20,283.30 365.00,288.70 413.20,311.20 461.20,330.00 509.50,335.00" fill="none" stroke-width="2.2" />
<line x1="321.50" y1="255.50" x2="321.50" y2="259.00" stroke-width="1.1" />
<line x1="325.50" y1="255.50" x2="325.50" y2="259.00" stroke-width="1.1" />
<line x1="329.50" y1="255.50" x2="329.50" y2="259.00" stroke-width="1.1" />
<line x1="333.50" y1="255.50" x2="333.50" y2="259.00" stroke-width="1.1" />
<line x1="337.00" y1="255.50" x2="337.00" y2="259.00" stroke-width="1.1" />
<line x1="365.00" y1="284.50" x2="365.00" y2="292.50" stroke-width="1.3" />
<line x1="413.20" y1="308.00" x2="413.20" y2="315.50" stroke-width="1.3" />
<line x1="461.20" y1="326.50" x2="461.20" y2="333.50" stroke-width="1.3" />
<line x1="509.50" y1="332.00" x2="509.50" y2="338.50" stroke-width="1.3" />
<circle cx="318.10" cy="232.10" r="2.5" fill="#000"/>
<circle cx="320.80" cy="237.20" r="2.5" fill="#000"/>
<circle cx="329.50" cy="241.80" r="2.5" fill="#000"/>
<circle cx="332.90" cy="243.10" r="2.5" fill="#000"/>
<circle cx="336.90" cy="241.80" r="2.5" fill="#000"/>
<circle cx="324.80" cy="248.90" r="2.5" fill="#000"/>
<circle cx="336.90" cy="254.70" r="2.5" fill="#000"/>
<circle cx="328.90" cy="256.10" r="2.5" fill="#000"/>
<circle cx="361.20" cy="282.20" r="2.5" fill="#000"/>
<circle cx="357.10" cy="286.20" r="2.5" fill="#000"/>
<circle cx="368.60" cy="285.30" r="2.5" fill="#000"/>
<circle cx="365.20" cy="286.60" r="2.5" fill="#000"/>
<circle cx="365.00" cy="305.00" r="2.5" fill="#000"/>
<circle cx="413.20" cy="276.70" r="2.5" fill="#000"/>
<circle cx="413.20" cy="294.50" r="2.5" fill="#000"/>
<circle cx="409.50" cy="326.20" r="2.5" fill="#000"/>
<circle cx="413.20" cy="331.70" r="2.5" fill="#000"/>
<circle cx="417.50" cy="329.50" r="2.5" fill="#000"/>
<circle cx="453.20" cy="309.50" r="2.5" fill="#000"/>
<circle cx="461.20" cy="311.70" r="2.5" fill="#000"/>
<circle cx="457.00" cy="338.70" r="2.5" fill="#000"/>
<circle cx="461.20" cy="345.00" r="2.5" fill="#000"/>
<circle cx="465.50" cy="343.00" r="2.5" fill="#000"/>
<circle cx="501.20" cy="332.00" r="2.5" fill="#000"/>
<circle cx="505.50" cy="333.00" r="2.5" fill="#000"/>
<circle cx="509.50" cy="332.50" r="2.5" fill="#000"/>
<circle cx="509.50" cy="341.20" r="2.5" fill="#000"/>
<circle cx="513.70" cy="340.00" r="2.5" fill="#000"/>
<circle cx="327.50" cy="265.68" r="2.5" fill="#000"/>
<circle cx="337.41" cy="264.22" r="2.5" fill="#000"/>
<circle cx="328.66" cy="266.10" r="2.5" fill="#000"/>
<circle cx="321.88" cy="264.93" r="2.5" fill="#000"/>
<circle cx="331.23" cy="269.29" r="2.5" fill="#000"/>
<circle cx="319.98" cy="261.70" r="2.5" fill="#000"/>
<circle cx="319.90" cy="269.55" r="2.5" fill="#000"/>
<circle cx="332.56" cy="257.65" r="2.5" fill="#000"/>
<circle cx="338.63" cy="271.95" r="2.5" fill="#000"/>
<circle cx="331.73" cy="266.54" r="2.5" fill="#000"/>
<circle cx="321.31" cy="257.23" r="2.5" fill="#000"/>
<circle cx="329.10" cy="257.92" r="2.5" fill="#000"/>
<circle cx="321.99" cy="260.75" r="2.5" fill="#000"/>
<circle cx="318.63" cy="264.19" r="2.5" fill="#000"/>
<circle cx="327.25" cy="270.06" r="2.5" fill="#000"/>
<circle cx="328.90" cy="266.92" r="2.5" fill="#000"/>
<circle cx="328.50" cy="267.27" r="2.5" fill="#000"/>
<circle cx="327.60" cy="261.31" r="2.5" fill="#000"/>
<circle cx="338.95" cy="272.43" r="2.5" fill="#000"/>
<circle cx="335.64" cy="267.97" r="2.5" fill="#000"/>
<circle cx="324.62" cy="260.56" r="2.5" fill="#000"/>
<circle cx="324.07" cy="258.09" r="2.5" fill="#000"/>
<circle cx="334.09" cy="263.21" r="2.5" fill="#000"/>
<circle cx="335.78" cy="262.99" r="2.5" fill="#000"/>
<circle cx="338.12" cy="270.13" r="2.5" fill="#000"/>
<circle cx="318.01" cy="260.25" r="2.5" fill="#000"/>
<circle cx="319.00" cy="257.00" r="2.5" fill="#000"/>
<circle cx="319.00" cy="264.00" r="2.5" fill="#000"/>
<circle cx="319.50" cy="271.00" r="2.5" fill="#000"/>
<circle cx="323.00" cy="260.00" r="2.5" fill="#000"/>
<circle cx="327.00" cy="259.00" r="2.5" fill="#000"/>
<circle cx="331.00" cy="262.00" r="2.5" fill="#000"/>
<circle cx="335.00" cy="259.50" r="2.5" fill="#000"/>
<circle cx="339.00" cy="262.00" r="2.5" fill="#000"/>
<circle cx="341.00" cy="268.00" r="2.5" fill="#000"/>
<circle cx="338.00" cy="272.50" r="2.5" fill="#000"/>
<circle cx="333.00" cy="272.50" r="2.5" fill="#000"/>
<circle cx="328.00" cy="273.00" r="2.5" fill="#000"/>
<circle cx="323.00" cy="272.50" r="2.5" fill="#000"/>
<circle cx="341.30" cy="271.50" r="2.5" fill="#000"/>
<polyline points="50.75,473.30 54.80,471.00 58.70,468.00 62.50,466.00 66.50,462.50 70.30,458.90 97.90,448.80 145.10,435.20 168.90,427.40 192.50,447.00" fill="none" stroke-width="2.2" />
<line x1="70.30" y1="455.00" x2="70.30" y2="462.50" stroke-width="1.3" />
<line x1="97.90" y1="445.50" x2="97.90" y2="452.00" stroke-width="1.3" />
<line x1="145.10" y1="431.50" x2="145.10" y2="439.00" stroke-width="1.3" />
<line x1="168.90" y1="423.00" x2="168.90" y2="432.00" stroke-width="1.3" />
<polyline points="50.75,473.50 54.80,473.70 58.40,479.50 62.50,492.20 66.50,491.00 70.50,507.50 97.90,496.70 145.10,466.10 192.50,447.00 239.20,438.20" fill="none" stroke-width="2.2" stroke-dasharray="7.5 3" />
<path d="M70.30 443.40L72.80 447.90L67.80 447.90Z" fill="#000"/>
<path d="M89.80 443.00L92.30 447.50L87.30 447.50Z" fill="#000"/>
<path d="M97.90 444.70L100.40 449.20L95.40 449.20Z" fill="#000"/>
<path d="M101.90 443.70L104.40 448.20L99.40 448.20Z" fill="#000"/>
<path d="M101.90 448.80L104.40 453.30L99.40 453.30Z" fill="#000"/>
<path d="M97.90 453.10L100.40 457.60L95.40 457.60Z" fill="#000"/>
<path d="M70.30 455.80L72.80 460.30L67.80 460.30Z" fill="#000"/>
<path d="M66.20 459.00L68.70 463.50L63.70 463.50Z" fill="#000"/>
<path d="M74.30 462.20L76.80 466.70L71.80 466.70Z" fill="#000"/>
<path d="M62.20 459.80L64.70 464.30L59.70 464.30Z" fill="#000"/>
<path d="M66.20 481.30L68.70 485.80L63.70 485.80Z" fill="#000"/>
<path d="M145.10 424.60L147.60 429.10L142.60 429.10Z" fill="#000"/>
<path d="M141.30 434.70L143.80 439.20L138.80 439.20Z" fill="#000"/>
<path d="M145.10 434.00L147.60 438.50L142.60 438.50Z" fill="#000"/>
<path d="M149.10 435.60L151.60 440.10L146.60 440.10Z" fill="#000"/>
<path d="M145.10 438.10L147.60 442.60L142.60 442.60Z" fill="#000"/>
<path d="M168.90 419.90L171.40 424.40L166.40 424.40Z" fill="#000"/>
<path d="M168.90 431.30L171.40 435.80L166.40 435.80Z" fill="#000"/>
<path d="M62.19 459.80L64.69 464.30L59.69 464.30Z" fill="#000"/>
<path d="M66.23 459.13L68.73 463.63L63.73 463.63Z" fill="#000"/>
<path d="M70.26 455.76L72.76 460.26L67.76 460.26Z" fill="#000"/>
<path d="M74.30 462.22L76.80 466.72L71.80 466.72Z" fill="#000"/>
<path d="M70.94 463.84L73.44 468.34L68.44 468.34Z" fill="#000"/>
<path d="M67.57 466.53L70.07 471.03L65.07 471.03Z" fill="#000"/>
<path d="M63.53 465.19L66.03 469.69L61.03 469.69Z" fill="#000"/>
<path d="M59.50 464.51L62.00 469.01L57.00 469.01Z" fill="#000"/>
<path d="M56.80 466.53L59.30 471.03L54.30 471.03Z" fill="#000"/>
<path d="M60.84 467.88L63.34 472.38L58.34 472.38Z" fill="#000"/>
<path d="M64.88 469.22L67.38 473.72L62.38 473.72Z" fill="#000"/>
<path d="M68.92 467.88L71.42 472.38L66.42 472.38Z" fill="#000"/>
<path d="M62.19 470.57L64.69 475.07L59.69 475.07Z" fill="#000"/>
<path d="M58.15 470.84L60.65 475.34L55.65 475.34Z" fill="#000"/>
<path d="M55.46 469.22L57.96 473.72L52.96 473.72Z" fill="#000"/>
<path d="M66.23 471.91L68.73 476.41L63.73 476.41Z" fill="#000"/>
<path d="M59.50 473.26L62.00 477.76L57.00 477.76Z" fill="#000"/>
<path d="M72.28 459.80L74.78 464.30L69.78 464.30Z" fill="#000"/>
<path d="M64.21 462.22L66.71 466.72L61.71 466.72Z" fill="#000"/>
<path d="M68.24 462.76L70.74 467.26L65.74 467.26Z" fill="#000"/>
<path d="M54.11 471.91L56.61 476.41L51.61 476.41Z" fill="#000"/>
<path d="M69.59 465.86L72.09 470.36L67.09 470.36Z" fill="#000"/>
<circle cx="52.10" cy="470.40" r="3.0" fill="#fff" stroke="#000" stroke-width="1.5"/>
<circle cx="50.90" cy="474.00" r="3.0" fill="#fff" stroke="#000" stroke-width="1.5"/>
<circle cx="54.80" cy="473.70" r="3.0" fill="#fff" stroke="#000" stroke-width="1.5"/>
<circle cx="58.40" cy="479.50" r="3.0" fill="#fff" stroke="#000" stroke-width="1.5"/>
<circle cx="62.50" cy="492.20" r="3.0" fill="#fff" stroke="#000" stroke-width="1.5"/>
<circle cx="66.60" cy="491.00" r="3.0" fill="#fff" stroke="#000" stroke-width="1.5"/>
<circle cx="70.50" cy="507.50" r="3.0" fill="#fff" stroke="#000" stroke-width="1.5"/>
<circle cx="97.90" cy="496.70" r="3.0" fill="#fff" stroke="#000" stroke-width="1.5"/>
<circle cx="145.10" cy="466.10" r="3.0" fill="#fff" stroke="#000" stroke-width="1.5"/>
<circle cx="192.50" cy="447.00" r="3.0" fill="#fff" stroke="#000" stroke-width="1.5"/>
<circle cx="239.20" cy="438.20" r="3.0" fill="#fff" stroke="#000" stroke-width="1.5"/>
<polyline points="319.50,471.40 327.00,468.00 335.00,464.50 342.30,462.00 366.50,456.60 413.20,442.00 460.50,435.70 507.50,431.20" fill="none" stroke-width="2.2" />
<line x1="366.50" y1="453.00" x2="366.50" y2="460.00" stroke-width="1.3" />
<line x1="413.20" y1="438.50" x2="413.20" y2="445.50" stroke-width="1.3" />
<line x1="460.50" y1="432.50" x2="460.50" y2="439.00" stroke-width="1.3" />
<line x1="507.50" y1="428.00" x2="507.50" y2="434.50" stroke-width="1.3" />
<circle cx="366.50" cy="447.20" r="2.5" fill="#000"/>
<circle cx="358.20" cy="455.30" r="2.5" fill="#000"/>
<circle cx="369.90" cy="455.30" r="2.5" fill="#000"/>
<circle cx="366.50" cy="458.00" r="2.5" fill="#000"/>
<circle cx="366.50" cy="466.00" r="2.5" fill="#000"/>
<circle cx="338.90" cy="457.30" r="2.5" fill="#000"/>
<circle cx="326.80" cy="460.30" r="2.5" fill="#000"/>
<circle cx="342.30" cy="464.70" r="2.5" fill="#000"/>
<circle cx="319.20" cy="465.10" r="2.5" fill="#000"/>
<circle cx="330.90" cy="479.10" r="2.5" fill="#000"/>
<circle cx="320.10" cy="478.80" r="2.5" fill="#000"/>
<circle cx="405.50" cy="437.50" r="2.5" fill="#000"/>
<circle cx="413.20" cy="433.70" r="2.5" fill="#000"/>
<circle cx="413.20" cy="443.00" r="2.5" fill="#000"/>
<circle cx="417.00" cy="445.70" r="2.5" fill="#000"/>
<circle cx="413.20" cy="453.20" r="2.5" fill="#000"/>
<circle cx="460.00" cy="428.00" r="2.5" fill="#000"/>
<circle cx="464.20" cy="427.50" r="2.5" fill="#000"/>
<circle cx="460.50" cy="437.50" r="2.5" fill="#000"/>
<circle cx="464.50" cy="439.50" r="2.5" fill="#000"/>
<circle cx="460.50" cy="446.20" r="2.5" fill="#000"/>
<circle cx="499.50" cy="426.20" r="2.5" fill="#000"/>
<circle cx="503.70" cy="430.70" r="2.5" fill="#000"/>
<circle cx="507.50" cy="428.70" r="2.5" fill="#000"/>
<circle cx="511.20" cy="435.50" r="2.5" fill="#000"/>
<circle cx="507.50" cy="438.00" r="2.5" fill="#000"/>
<circle cx="324.74" cy="470.79" r="2.5" fill="#000"/>
<circle cx="327.64" cy="470.22" r="2.5" fill="#000"/>
<circle cx="333.27" cy="461.94" r="2.5" fill="#000"/>
<circle cx="319.79" cy="476.09" r="2.5" fill="#000"/>
<circle cx="325.21" cy="467.18" r="2.5" fill="#000"/>
<circle cx="341.40" cy="462.97" r="2.5" fill="#000"/>
<circle cx="337.90" cy="464.51" r="2.5" fill="#000"/>
<circle cx="333.56" cy="462.75" r="2.5" fill="#000"/>
<circle cx="333.47" cy="470.68" r="2.5" fill="#000"/>
<circle cx="331.01" cy="470.32" r="2.5" fill="#000"/>
<circle cx="334.27" cy="461.50" r="2.5" fill="#000"/>
<circle cx="336.18" cy="466.50" r="2.5" fill="#000"/>
<circle cx="326.13" cy="464.56" r="2.5" fill="#000"/>
<circle cx="338.54" cy="464.20" r="2.5" fill="#000"/>
<circle cx="335.31" cy="470.03" r="2.5" fill="#000"/>
<circle cx="335.21" cy="470.53" r="2.5" fill="#000"/>
<circle cx="328.19" cy="472.16" r="2.5" fill="#000"/>
<circle cx="329.28" cy="473.18" r="2.5" fill="#000"/>
<circle cx="338.84" cy="459.95" r="2.5" fill="#000"/>
<circle cx="322.49" cy="468.13" r="2.5" fill="#000"/>
<circle cx="340.74" cy="462.88" r="2.5" fill="#000"/>
<circle cx="333.29" cy="464.52" r="2.5" fill="#000"/>
<circle cx="330.66" cy="466.56" r="2.5" fill="#000"/>
<circle cx="327.22" cy="470.19" r="2.5" fill="#000"/>
<circle cx="332.35" cy="471.55" r="2.5" fill="#000"/>
<circle cx="334.50" cy="470.92" r="2.5" fill="#000"/>
<circle cx="338.34" cy="469.99" r="2.5" fill="#000"/>
<circle cx="334.27" cy="462.59" r="2.5" fill="#000"/>
<circle cx="338.43" cy="469.66" r="2.5" fill="#000"/>
<circle cx="339.40" cy="464.90" r="2.5" fill="#000"/>
<circle cx="319.50" cy="466.00" r="2.5" fill="#000"/>
<circle cx="319.70" cy="470.00" r="2.5" fill="#000"/>
<circle cx="319.50" cy="474.00" r="2.5" fill="#000"/>
<circle cx="320.00" cy="477.50" r="2.5" fill="#000"/>
<circle cx="321.50" cy="472.00" r="2.5" fill="#000"/>
<circle cx="322.50" cy="468.00" r="2.5" fill="#000"/>
<circle cx="322.50" cy="476.00" r="2.5" fill="#000"/>
<circle cx="324.50" cy="473.00" r="2.5" fill="#000"/>
<circle cx="325.00" cy="466.50" r="2.5" fill="#000"/>
<circle cx="326.00" cy="470.00" r="2.5" fill="#000"/>
<text x="97.90" y="744.80" font-size="17.5" text-anchor="middle" font-weight="bold" stroke="#000" stroke-width="0.35" >*</text>
<text x="146.79" y="744.80" font-size="17.5" text-anchor="middle" font-weight="bold" letter-spacing="1.19" stroke="#000" stroke-width="0.35">**</text>
<polyline points="50.75,719.80 53.50,697.00 58.70,648.20 70.50,627.50 98.20,619.20 145.50,616.20" fill="none" stroke-width="2.2" stroke-dasharray="7.5 3" />
<polyline points="50.75,734.60 58.80,703.60 66.50,692.90 70.90,711.00 98.50,683.50 145.50,652.00 169.50,675.70" fill="none" stroke-width="2.2" />
<line x1="98.50" y1="680.00" x2="98.50" y2="687.50" stroke-width="1.3" />
<line x1="70.90" y1="707.50" x2="70.90" y2="714.50" stroke-width="1.3" />
<line x1="145.50" y1="648.50" x2="145.50" y2="655.50" stroke-width="1.3" />
<line x1="66.50" y1="689.50" x2="66.50" y2="696.00" stroke-width="1.3" />
<circle cx="50.75" cy="679.70" r="2.5" fill="#000"/>
<circle cx="58.80" cy="675.40" r="2.5" fill="#000"/>
<circle cx="90.50" cy="676.10" r="2.5" fill="#000"/>
<circle cx="98.50" cy="678.30" r="2.5" fill="#000"/>
<circle cx="102.60" cy="671.10" r="2.5" fill="#000"/>
<circle cx="102.60" cy="695.60" r="2.5" fill="#000"/>
<circle cx="98.50" cy="702.00" r="2.5" fill="#000"/>
<circle cx="58.80" cy="698.30" r="2.5" fill="#000"/>
<circle cx="66.50" cy="693.60" r="2.5" fill="#000"/>
<circle cx="62.20" cy="704.30" r="2.5" fill="#000"/>
<circle cx="70.50" cy="706.30" r="2.5" fill="#000"/>
<circle cx="58.80" cy="718.50" r="2.5" fill="#000"/>
<circle cx="70.50" cy="720.50" r="2.5" fill="#000"/>
<circle cx="74.60" cy="716.80" r="2.5" fill="#000"/>
<circle cx="50.75" cy="715.80" r="2.5" fill="#000"/>
<circle cx="58.80" cy="730.80" r="2.5" fill="#000"/>
<circle cx="54.80" cy="732.60" r="2.5" fill="#000"/>
<circle cx="50.75" cy="729.20" r="2.5" fill="#000"/>
<circle cx="50.75" cy="735.50" r="2.5" fill="#000"/>
<circle cx="145.50" cy="636.20" r="2.5" fill="#000"/>
<circle cx="138.00" cy="643.70" r="2.5" fill="#000"/>
<circle cx="145.50" cy="644.50" r="2.5" fill="#000"/>
<circle cx="145.50" cy="677.50" r="2.5" fill="#000"/>
<circle cx="169.50" cy="675.70" r="2.5" fill="#000"/>
<circle cx="50.75" cy="719.80" r="3.0" fill="#fff" stroke="#000" stroke-width="1.5"/>
<circle cx="58.70" cy="648.20" r="3.0" fill="#fff" stroke="#000" stroke-width="1.5"/>
<circle cx="70.50" cy="627.50" r="3.0" fill="#fff" stroke="#000" stroke-width="1.5"/>
<circle cx="98.20" cy="619.20" r="3.0" fill="#fff" stroke="#000" stroke-width="1.5"/>
<circle cx="145.50" cy="616.20" r="3.0" fill="#fff" stroke="#000" stroke-width="1.5"/>
<text x="367.50" y="623.50" font-size="18.5" text-anchor="middle" font-weight="bold" stroke="#000" stroke-width="0.35" >*</text>
<text x="414.50" y="623.50" font-size="18.5" text-anchor="middle" font-weight="bold" stroke="#000" stroke-width="0.35" >*</text>
<text x="462.50" y="623.50" font-size="18.5" text-anchor="middle" font-weight="bold" stroke="#000" stroke-width="0.35" >*</text>
<text x="510.50" y="623.50" font-size="18.5" text-anchor="middle" font-weight="bold" letter-spacing="1.0" stroke="#000" stroke-width="0.35">**</text>
<polyline points="322.80,723.80 330.40,697.60 340.90,707.00 369.90,682.10 417.00,674.50 464.20,672.00 511.70,660.00" fill="none" stroke-width="2.2" />
<path d="M320.6 715.2L325 715.2L322.8 722.5Z" fill="#000" stroke="none"/>
<line x1="330.40" y1="694.50" x2="330.40" y2="699.00" stroke-width="1.3" />
<line x1="369.90" y1="678.00" x2="369.90" y2="686.00" stroke-width="1.3" />
<line x1="417.00" y1="671.00" x2="417.00" y2="677.50" stroke-width="1.3" />
<line x1="464.20" y1="668.50" x2="464.20" y2="675.00" stroke-width="1.3" />
<line x1="511.70" y1="656.00" x2="511.70" y2="663.50" stroke-width="1.3" />
<circle cx="330.40" cy="682.10" r="2.5" fill="#000"/>
<circle cx="330.40" cy="713.30" r="2.5" fill="#000"/>
<circle cx="338.20" cy="708.40" r="2.5" fill="#000"/>
<circle cx="338.20" cy="713.30" r="2.5" fill="#000"/>
<circle cx="343.00" cy="708.40" r="2.5" fill="#000"/>
<circle cx="346.30" cy="708.40" r="2.5" fill="#000"/>
<circle cx="322.80" cy="726.50" r="2.5" fill="#000"/>
<circle cx="326.10" cy="725.90" r="2.5" fill="#000"/>
<circle cx="322.80" cy="728.50" r="2.5" fill="#000"/>
<circle cx="369.90" cy="677.40" r="2.5" fill="#000"/>
<circle cx="373.90" cy="675.70" r="2.5" fill="#000"/>
<circle cx="369.90" cy="694.90" r="2.5" fill="#000"/>
<circle cx="369.90" cy="705.00" r="2.5" fill="#000"/>
<circle cx="369.50" cy="658.20" r="2.5" fill="#000"/>
<circle cx="417.00" cy="654.20" r="2.5" fill="#000"/>
<circle cx="417.00" cy="673.70" r="2.5" fill="#000"/>
<circle cx="456.20" cy="666.20" r="2.5" fill="#000"/>
<circle cx="464.20" cy="668.00" r="2.5" fill="#000"/>
<circle cx="468.20" cy="661.20" r="2.5" fill="#000"/>
<circle cx="511.70" cy="643.20" r="2.5" fill="#000"/>
<circle cx="511.70" cy="663.70" r="2.5" fill="#000"/>
<circle cx="511.70" cy="672.50" r="2.5" fill="#000"/>
<circle cx="417.00" cy="695.50" r="2.5" fill="#000"/>
<circle cx="464.20" cy="691.20" r="2.5" fill="#000"/>
</g>
</svg>
</body></html>
